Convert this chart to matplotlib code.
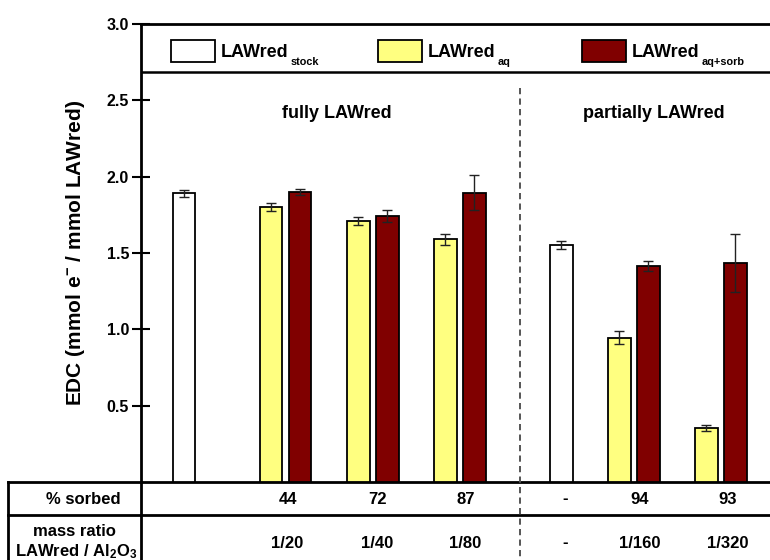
import matplotlib
matplotlib.use("Agg")
import matplotlib.pyplot as plt
from matplotlib.patches import Patch

plt.rcParams['font.family'] = ['Liberation Sans', 'DejaVu Sans']
plt.rcParams['font.weight'] = 'bold'
plt.rcParams['mathtext.fontset'] = 'custom'
plt.rcParams['mathtext.rm'] = 'Liberation Sans:bold'
plt.rcParams['mathtext.bf'] = 'Liberation Sans:bold'
plt.rcParams['mathtext.it'] = 'Liberation Sans:bold'
plt.rcParams['mathtext.sf'] = 'Liberation Sans:bold'

# ---------------- data ----------------
stock_vals = [1.89, 1.55]
stock_err = [0.024, 0.026]
aq_vals = [1.80, 1.71, 1.59, 0.945, 0.352]
aq_err = [0.027, 0.026, 0.037, 0.044, 0.02]
sorb_vals = [1.90, 1.74, 1.895, 1.415, 1.434]
sorb_err = [0.02, 0.04, 0.115, 0.03, 0.19]
sorbed_pct = ['44', '72', '87', '-', '94', '93']
mass_ratio = ['1/20', '1/40', '1/80', '-', '1/160', '1/320']
group_titles = ['fully LAWred', 'partially LAWred']
legend_main = ['LAWred', 'LAWred', 'LAWred']
legend_sub = ['stock', 'aq', 'aq+sorb']
yticks = [0.5, 1.0, 1.5, 2.0, 2.5, 3.0]

# ---------------- layout ----------------
x_stock = [0, 13]
x_aq = [3, 6, 9, 15, 18]
x_sorb = [4, 7, 10, 16, 19]
x_table = [3.57, 6.66, 9.7, 13.15, 15.72, 18.75]
x_divider = 11.6
bw = 0.79
c_white, c_yellow, c_red = 'white', '#FFFF80', '#800000'

fig = plt.figure(figsize=(7.7, 5.6), dpi=100)
ax = fig.add_axes([141/770, 1-482/560, (785-141)/770, (482-24)/560])
ax.set_xlim(-1.483, 20.72)
ax.set_ylim(0, 3.0)

ekw = dict(ecolor='#222222', elinewidth=1.0, capsize=3.6, capthick=1.0)
ax.bar(x_stock, stock_vals, bw, yerr=stock_err, color=c_white,
       edgecolor='black', linewidth=1.3, error_kw=ekw, zorder=3)
ax.bar(x_aq, aq_vals, bw, yerr=aq_err, color=c_yellow,
       edgecolor='black', linewidth=1.3, error_kw=ekw, zorder=3)
ax.bar(x_sorb, sorb_vals, bw, yerr=sorb_err, color=c_red,
       edgecolor='black', linewidth=1.3, error_kw=ekw, zorder=3)

# spines / ticks
for s in ['left', 'top', 'bottom']:
    ax.spines[s].set_linewidth(2.0)
ax.spines['right'].set_visible(False)
ax.set_xticks([])
ax.set_yticks(yticks)
ax.set_yticklabels([f'{v:.1f}' for v in yticks], fontsize=11.5, fontweight='bold')
ax.tick_params(axis='y', direction='inout', length=13, width=1.5, pad=2)
ax.set_ylabel(r'EDC (mmol e$^{-}$ / mmol LAWred)', fontsize=15,
              fontweight='bold', labelpad=14)

# legend band
ax.axhline(2.685, color='black', lw=1.8, zorder=4)
handles = [Patch(facecolor=c, edgecolor='black', linewidth=1.3)
           for c in (c_white, c_yellow, c_red)]
lx = [(171-141)/644, (378-141)/644, (582-141)/644]
legs = []
for i, (h, lab) in enumerate(zip(handles, legend_main)):
    leg = ax.legend([h], [lab], loc='center left', bbox_to_anchor=(lx[i], (482-51)/458),
                    frameon=False, borderpad=0, borderaxespad=0,
                    handlelength=2.44, handleheight=1.42, handletextpad=0.33,
                    prop=dict(family='Liberation Sans', weight='bold', size=13))
    if i < 2:
        ax.add_artist(leg)
    legs.append(leg)

fig.canvas.draw()
renderer = fig.canvas.get_renderer()
for leg, sub in zip(legs, legend_sub):
    bb = leg.get_texts()[0].get_window_extent(renderer)
    x_disp = bb.x1 + 1.5
    y_disp = bb.y0 + 3.5 - 7.5
    xf, yf = fig.transFigure.inverted().transform((x_disp, y_disp))
    fig.text(xf, yf, sub, ha='left', va='baseline', fontsize=7.8, fontweight='bold')

# group titles
ax.text(5.28, 2.416, group_titles[0], ha='center', va='center', fontsize=13, fontweight='bold')
ax.text(16.2, 2.416, group_titles[1], ha='center', va='center', fontsize=13, fontweight='bold')

# dashed divider
ax.plot([x_divider, x_divider], [2.58, -0.52], color='#555555', lw=1.4,
        dashes=(3.2, 2.2), clip_on=False, zorder=5)

# table lines
tkw = dict(transform=ax.transAxes, clip_on=False, color='black', lw=2.0)
xl = (8-141)/644
yrow = (482-515)/458
ybot = (482-562)/458
ax.plot([xl, 0], [0, 0], **tkw)
ax.plot([xl, 1], [yrow, yrow], **tkw)
ax.plot([xl, xl], [0, ybot], **tkw)
ax.plot([0, 0], [0, ybot], **tkw)

# table text
ax.text((83-141)/644, (482-499)/458, '% sorbed', transform=ax.transAxes,
        ha='center', va='center', fontsize=12, fontweight='bold')
ax.text((74-141)/644, (482-531)/458, 'mass ratio', transform=ax.transAxes,
        ha='center', va='center', fontsize=12, fontweight='bold')
ax.text((76-141)/644, (482-552)/458, r'LAWred / Al$_2$O$_3$', transform=ax.transAxes,
        ha='center', va='center', fontsize=12, fontweight='bold')
tr = ax.get_xaxis_transform()
for xp, s, m in zip(x_table, sorbed_pct, mass_ratio):
    ax.text(xp, (482-499)/458, s, transform=tr, ha='center', va='center',
            fontsize=12, fontweight='bold')
    ax.text(xp, (482-543)/458, m, transform=tr, ha='center', va='center',
            fontsize=12, fontweight='bold')

fig.savefig('out.png', dpi=100)
